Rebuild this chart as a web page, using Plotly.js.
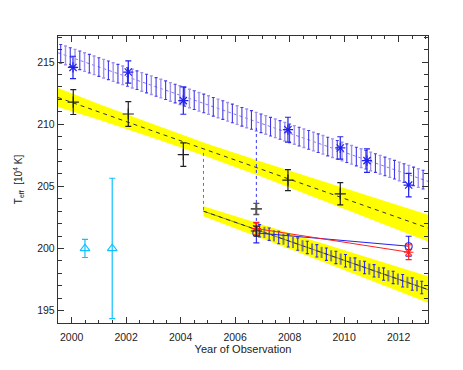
<!DOCTYPE html>
<html>
<head>
<meta charset="utf-8">
<script src="https://cdn.plot.ly/plotly-3.0.1.min.js"></script>
<style>html,body{margin:0;padding:0;background:#fff;}#chart{width:463px;height:370px;}</style>
</head>
<body>
<div id="chart"></div>
<script>
// ---- observed points ----
var blueObsX = [2000.05, 2002.08, 2004.1, 2007.94, 2009.86, 2010.84, 2012.37];
var blueObsY = [214.57, 214.2, 211.9, 209.56, 208.09, 207.07, 205.1];
var blueObsErr = [0.9, 0.9, 1.1, 1.0, 0.9, 0.95, 0.95];

var blackObsX = [2000.06, 2002.08, 2004.1, 2007.94, 2009.86];
var blackObsY = [211.78, 210.82, 207.55, 205.5, 204.4];
var blackObsErr = [1.0, 1.0, 0.95, 0.85, 0.9];

var cyanX = [2000.49, 2001.49];
var cyanY = [200.0, 200.0];
var cyanErr = [0.73, 5.65];

var grayX = [2006.78];
var grayY = [203.18];
var grayErr = [0.45];

var lowBlackX = [2006.78];
var lowBlackY = [201.4];
var lowBlackErr = [0.4];

var lowBlueX = [2006.78, 2012.37];
var lowBlueY = [201.25, 200.18];
var lowBlueErr = [0.8, 0.8];

var lowRedX = [2006.78, 2012.37];
var lowRedY = [201.6, 199.7];
var lowRedErr = [0.5, 0.6];

// ---- model bands ----
var upBandX = [1999.5, 2001, 2003, 2005, 2007, 2009, 2011, 2013.08];
var upBandHi = [212.92, 211.63, 209.99, 208.41, 206.95, 205.55, 204.15, 202.72];
var upBandLo = [211.38, 210.35, 208.89, 207.37, 205.75, 204.05, 202.35, 200.56];
var upLineX = [1999.5, 2013.08];
var upLineY = [212.15, 201.64];

var lowBandX = [2004.84, 2006, 2008, 2010, 2012, 2013.08];
var lowBandHi = [203.4, 202.61, 201.2, 199.83, 198.47, 197.76];
var lowBandLo = [202.6, 201.61, 199.96, 198.27, 196.57, 195.62];
var lowLineX = [2004.84, 2013.08];
var lowLineY = [203.0, 196.69];

var blueLineX = [1999.5, 2013.08];
var blueLineY = [215.75, 205.4];

// hatched blue model (upper)
var hatchUpX = [1999.6,1999.775,1999.95,2000.125,2000.3,2000.475,2000.65,2000.825,2001.0,2001.175,2001.35,2001.525,2001.7,2001.875,2002.05,2002.225,2002.4,2002.575,2002.75,2002.925,2003.1,2003.275,2003.45,2003.625,2003.8,2003.975,2004.15,2004.325,2004.5,2004.675,2004.85,2005.025,2005.2,2005.375,2005.55,2005.725,2005.9,2006.075,2006.25,2006.425,2006.6,2006.775,2006.95,2007.125,2007.3,2007.475,2007.65,2007.825,2008.0,2008.175,2008.35,2008.525,2008.7,2008.875,2009.05,2009.225,2009.4,2009.575,2009.75,2009.925,2010.1,2010.275,2010.45,2010.625,2010.8,2010.975,2011.15,2011.325,2011.5,2011.675,2011.85,2012.025,2012.2,2012.375,2012.55,2012.725,2012.9];
var hatchUpY = [215.67,215.54,215.40,215.27,215.14,215.00,214.87,214.74,214.60,214.47,214.34,214.20,214.07,213.94,213.80,213.67,213.54,213.40,213.27,213.14,213.00,212.87,212.74,212.60,212.47,212.34,212.20,212.07,211.94,211.80,211.67,211.54,211.40,211.27,211.14,211.00,210.87,210.74,210.60,210.47,210.34,210.20,210.07,209.94,209.80,209.67,209.54,209.40,209.27,209.14,209.00,208.87,208.74,208.60,208.47,208.34,208.20,208.07,207.94,207.80,207.67,207.54,207.40,207.27,207.14,207.00,206.87,206.74,206.60,206.47,206.34,206.20,206.07,205.94,205.80,205.67,205.54];

// hatched model (lower)
var hatchLowX = [2006.9,2007.075,2007.25,2007.425,2007.6,2007.775,2007.95,2008.125,2008.3,2008.475,2008.65,2008.825,2009.0,2009.175,2009.35,2009.525,2009.7,2009.875,2010.05,2010.225,2010.4,2010.575,2010.75,2010.925,2011.1,2011.275,2011.45,2011.625,2011.8,2011.975,2012.15,2012.325,2012.5,2012.675,2012.85];
var hatchLowY = [201.42,201.29,201.15,201.02,200.88,200.75,200.62,200.48,200.35,200.21,200.08,199.95,199.81,199.68,199.54,199.41,199.28,199.14,199.01,198.87,198.74,198.61,198.47,198.34,198.20,198.07,197.94,197.80,197.67,197.53,197.40,197.27,197.13,197.00,196.86];

// connectors
var grayDotX = [2004.84, 2004.84];
var grayDotY = [207.69, 202.9];
var blueDotX = [2006.78, 2006.78];
var blueDotY = [209.7, 201.9];

function pick(arr, parity) { return arr.filter(function (v, i) { return i % 2 === parity; }); }

var YEL = '#ffff00';
var traces = [];
// yellow bands
traces.push({x: upBandX, y: upBandLo, mode: 'lines', line: {width: 0, color: YEL}, hoverinfo: 'skip', showlegend: false});
traces.push({x: upBandX, y: upBandHi, mode: 'lines', line: {width: 0, color: YEL}, fill: 'tonexty', fillcolor: YEL, hoverinfo: 'skip', showlegend: false});
traces.push({x: lowBandX, y: lowBandLo, mode: 'lines', line: {width: 0, color: YEL}, hoverinfo: 'skip', showlegend: false});
traces.push({x: lowBandX, y: lowBandHi, mode: 'lines', line: {width: 0, color: YEL}, fill: 'tonexty', fillcolor: YEL, hoverinfo: 'skip', showlegend: false});
// dashed model lines
traces.push({x: upLineX, y: upLineY, mode: 'lines', line: {color: '#333', width: 1, dash: '4px,4px'}, showlegend: false});
traces.push({x: lowLineX, y: lowLineY, mode: 'lines', line: {color: '#333', width: 1, dash: '4px,4px'}, showlegend: false});
// blue hatched upper
traces.push({x: blueLineX, y: blueLineY, mode: 'lines', line: {color: '#8878f0', width: 1, dash: '3px,3px'}, showlegend: false});
traces.push({x: pick(hatchUpX, 1), y: pick(hatchUpY, 1), mode: 'markers', marker: {size: 0.1, color: 'rgba(0,0,0,0)'},
  error_y: {type: 'constant', value: 0.75, color: '#a093f0', thickness: 1.4, width: 1.5}, showlegend: false});
traces.push({x: pick(hatchUpX, 0), y: pick(hatchUpY, 0), mode: 'markers', marker: {size: 0.1, color: 'rgba(0,0,0,0)'},
  error_y: {type: 'constant', value: 0.75, color: '#4038ea', thickness: 1.1, width: 1.5}, showlegend: false});
// lower hatched
traces.push({x: pick(hatchLowX, 1), y: pick(hatchLowY, 1), mode: 'markers', marker: {size: 0.1, color: 'rgba(0,0,0,0)'},
  error_y: {type: 'constant', value: 0.45, color: '#808080', thickness: 2, width: 0}, showlegend: false});
traces.push({x: pick(hatchLowX, 0), y: pick(hatchLowY, 0), mode: 'markers', marker: {size: 0.1, color: 'rgba(0,0,0,0)'},
  error_y: {type: 'constant', value: 0.5, color: '#2a2aee', thickness: 1.1, width: 1.5}, showlegend: false});
traces.push({x: lowLineX, y: lowLineY, mode: 'lines', line: {color: '#1a1a60', width: 0.8}, opacity: 0.6, showlegend: false});
// connectors
traces.push({x: grayDotX, y: grayDotY, mode: 'lines', line: {color: '#777', width: 1, dash: 'dot'}, showlegend: false});
traces.push({x: blueDotX, y: blueDotY, mode: 'lines', line: {color: '#3333ee', width: 1, dash: 'dot'}, showlegend: false});
// lower series lines
traces.push({x: lowBlueX, y: lowBlueY, mode: 'lines+markers', line: {color: '#2222ee', width: 1},
  marker: {symbol: 'circle-open', size: 7, color: '#2222ee', line: {width: 1.1}},
  error_y: {type: 'data', array: lowBlueErr, color: '#2222ee', thickness: 1.1, width: 3}, showlegend: false});
traces.push({x: lowRedX, y: lowRedY, mode: 'lines+markers', line: {color: '#ff2020', width: 1},
  marker: {symbol: 'asterisk-open', size: 8, color: '#ff2020', line: {width: 1.1, color: '#ff2020'}},
  error_y: {type: 'data', array: lowRedErr, color: '#ff2020', thickness: 1.1, width: 3}, showlegend: false});
traces.push({x: lowBlackX, y: lowBlackY, mode: 'markers',
  marker: {symbol: 'cross-thin-open', size: 8, color: '#222', line: {width: 1.1, color: '#222'}},
  error_y: {type: 'data', array: lowBlackErr, color: '#222', thickness: 1.1, width: 3}, showlegend: false});
// observed points
traces.push({x: grayX, y: grayY, mode: 'markers',
  marker: {symbol: 'cross-thin-open', size: 8, color: '#555', line: {width: 1.8, color: '#555'}},
  error_y: {type: 'data', array: grayErr, color: '#555', thickness: 1.4, width: 3}, showlegend: false});
traces.push({x: blackObsX, y: blackObsY, mode: 'markers',
  marker: {symbol: 'cross-thin-open', size: 8, color: '#222', line: {width: 1.2, color: '#222'}},
  error_y: {type: 'data', array: blackObsErr, color: '#222', thickness: 1.2, width: 3}, showlegend: false});
traces.push({x: blueObsX, y: blueObsY, mode: 'markers',
  marker: {symbol: 'asterisk-open', size: 8.5, color: '#2222ee', line: {width: 1.2, color: '#2222ee'}},
  error_y: {type: 'data', array: blueObsErr, color: '#2222ee', thickness: 1.2, width: 3}, showlegend: false});
traces.push({x: cyanX, y: cyanY, mode: 'markers',
  marker: {symbol: 'triangle-up-open', size: 8.5, color: '#10c0ff', line: {width: 1.1, color: '#10c0ff'}},
  error_y: {type: 'data', array: cyanErr, color: '#10c0ff', thickness: 1.2, width: 3}, showlegend: false});

var axisFont = {family: 'Liberation Sans, Arial, sans-serif', size: 10.5, color: '#222'};
var layout = {
  width: 463, height: 370,
  margin: {l: 58, r: 35, t: 36, b: 47},
  paper_bgcolor: '#fff', plot_bgcolor: '#fff',
  showlegend: false,
  xaxis: {
    range: [1999.5, 2013.08], tick0: 2000, dtick: 2, ticks: 'inside', ticklen: 6, tickwidth: 1, tickcolor: '#333',
    minor: {dtick: 0.5, ticks: 'inside', ticklen: 3, tickcolor: '#333'},
    showline: true, linecolor: '#333', linewidth: 1.2, mirror: 'allticks', showgrid: false, zeroline: false,
    tickfont: axisFont, ticklabelstandoff: 4,
    title: {text: 'Year of Observation', font: {family: 'Liberation Sans, Arial, sans-serif', size: 11, color: '#222'}, standoff: 3}
  },
  yaxis: {
    range: [194, 217.1], tick0: 195, dtick: 5, ticks: 'inside', ticklen: 6, tickwidth: 1, tickcolor: '#333',
    minor: {dtick: 1, ticks: 'inside', ticklen: 4, tickcolor: '#333'},
    showline: true, linecolor: '#333', linewidth: 1.2, mirror: 'allticks', showgrid: false, zeroline: false,
    tickfont: axisFont,
    title: {text: 'T<sub>eff</sub>  [10<sup>4</sup> K]', font: {family: 'Liberation Sans, Arial, sans-serif', size: 10, color: '#222'}, standoff: 12}
  }
};
Plotly.newPlot('chart', traces, layout, {staticPlot: true, displayModeBar: false});
</script>
</body>
</html>
